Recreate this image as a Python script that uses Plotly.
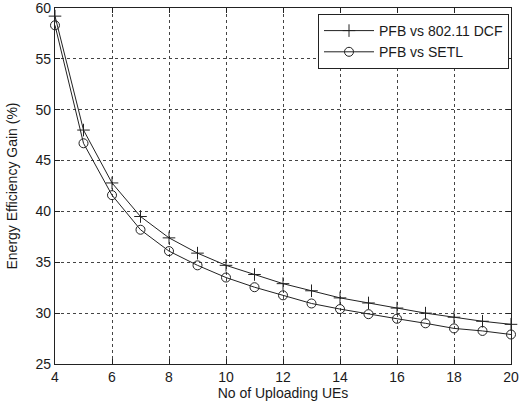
import plotly.graph_objects as go

ues = [4, 5, 6, 7, 8, 9, 10, 11, 12, 13, 14, 15, 16, 17, 18, 19, 20]
gain_dcf = [59.2, 48.0, 42.8, 39.5, 37.4, 35.9, 34.7, 33.8, 32.9, 32.2, 31.5, 31.0, 30.5, 30.0, 29.6, 29.2, 28.9]
gain_setl = [58.3, 46.7, 41.6, 38.2, 36.1, 34.7, 33.5, 32.55, 31.75, 30.95, 30.4, 29.9, 29.45, 29.0, 28.5, 28.25, 27.9]
x_ticks = [4, 6, 8, 10, 12, 14, 16, 18, 20]
y_ticks = [25, 30, 35, 40, 45, 50, 55, 60]

line_col = "#222222"
txt_col = "#1a1a1a"
fig = go.Figure()
fig.add_trace(go.Scatter(
    x=ues, y=gain_dcf, mode="lines+markers", name="PFB vs 802.11 DCF",
    line=dict(color=line_col, width=1),
    marker=dict(symbol="cross-thin-open", size=9, line=dict(color=line_col, width=1)),
    cliponaxis=False,
))
fig.add_trace(go.Scatter(
    x=ues, y=gain_setl, mode="lines+markers", name="PFB vs SETL",
    line=dict(color=line_col, width=1),
    marker=dict(symbol="circle-open", size=9, color=line_col, line=dict(color=line_col, width=1)),
    cliponaxis=False,
))

axis_common = dict(
    showline=True, linecolor="#222222", linewidth=1.3, mirror="ticks",
    ticks="inside", ticklen=5, tickcolor="#222222",
    showgrid=True, gridcolor="#444444", griddash="dot", gridwidth=1,
    zeroline=False, tickfont=dict(size=14, color=txt_col), automargin=False,
    ticklabeloverflow="allow",
)
fig.update_xaxes(range=[4, 20], tickvals=x_ticks,
                 title=dict(text="No of Uploading UEs", font=dict(size=14, color=txt_col), standoff=3),
                 **axis_common)
fig.update_yaxes(range=[25, 60], tickvals=y_ticks,
                 title=dict(text="Energy Efficiency Gain (%)", font=dict(size=14, color=txt_col), standoff=14),
                 **axis_common)

fig.update_layout(
    template="none",
    width=528, height=404,
    margin=dict(l=55, r=17, t=8, b=40),
    paper_bgcolor="white", plot_bgcolor="white",
    font=dict(family="Liberation Sans, Arial, sans-serif", size=14, color=txt_col),
    legend=dict(x=1 - 2 / 456, y=1 - 6 / 356, xanchor="right", yanchor="top",
                bordercolor="#222222", borderwidth=1, bgcolor="white",
                font=dict(size=14), tracegroupgap=0, itemwidth=50),
    showlegend=True,
)
fig.write_html("out.html", config={"displayModeBar": False},
               post_script="document.body.style.margin='0';")
